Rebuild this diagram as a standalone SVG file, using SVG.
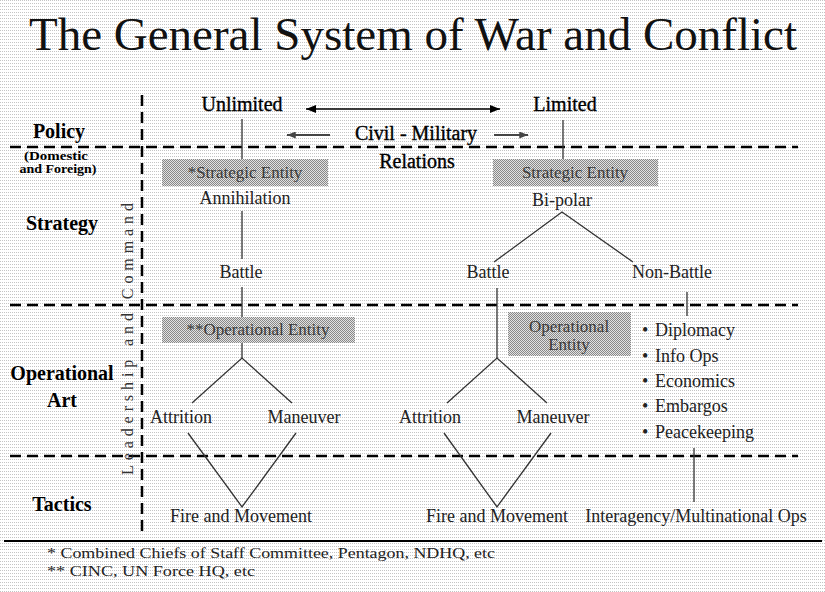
<svg xmlns="http://www.w3.org/2000/svg" width="825" height="592" viewBox="0 0 825 592" font-family="'Liberation Serif', serif">
  <defs>
    <!-- light dotted paper texture -->
    <pattern id="paper" width="2" height="3" patternUnits="userSpaceOnUse">
      <rect width="2" height="3" fill="#ffffff"/>
      <rect x="0" y="0" width="1" height="1" fill="#c4c4c4"/>
    </pattern>
    <!-- checkered shading for entity boxes -->
    <pattern id="shade" width="2" height="2" patternUnits="userSpaceOnUse">
      <rect width="2" height="2" fill="#e2e2e2"/>
      <rect x="0" y="0" width="1" height="1" fill="#888888"/>
      <rect x="1" y="1" width="1" height="1" fill="#888888"/>
    </pattern>
    <marker id="headBlack" viewBox="0 0 10 8" refX="10" refY="4" markerWidth="10" markerHeight="8" markerUnits="userSpaceOnUse" orient="auto-start-reverse">
      <path d="M0,0 L10,4 L0,8 Z" fill="#000"/>
    </marker>
    <marker id="headGray" viewBox="0 0 10 8" refX="10" refY="4" markerWidth="9" markerHeight="7" markerUnits="userSpaceOnUse" orient="auto-start-reverse">
      <path d="M0,0 L10,4 L0,8 Z" fill="#444"/>
    </marker>
  </defs>
  <style>
    .title { font-size: 47px; fill: #111; }
    .band { font-size: 20px; font-weight: bold; fill: #000; }
    .bandSmall { font-size: 12px; font-weight: bold; fill: #000; }
    .big { font-size: 20px; fill: #000; stroke: #000; stroke-width: 0.35px; }
    .lbl { font-size: 18px; fill: #222; }
    .boxText { font-size: 17px; fill: #3a3a3a; }
    .note { font-size: 15px; fill: #222; }
    .vert { font-size: 16px; fill: #333; }
    .box { fill: url(#shade); }
    .divider { stroke: #000; stroke-width: 2.5; stroke-dasharray: 11 6; fill: none; }
    .link { stroke: #333; stroke-width: 1.3; fill: none; }
    .arrow { stroke: #000; stroke-width: 1.6; fill: none; }
    .arrowGray { stroke: #444; stroke-width: 2; fill: none; }
  </style>

  <rect width="825" height="592" fill="url(#paper)"/>

  <text class="title" font-family="Liberation Serif" x="413" y="50" text-anchor="middle">The General System of War and Conflict</text>

  <!-- level dividers -->
  <g id="dividers">
    <line class="divider" x1="10" y1="147" x2="798" y2="147"/>
    <line class="divider" x1="10" y1="305" x2="798" y2="305"/>
    <line class="divider" x1="10" y1="456" x2="798" y2="456"/>
    <line class="divider" x1="142" y1="95" x2="142" y2="534"/>
  </g>

  <!-- level labels -->
  <g id="levels">
    <text class="band" font-family="Liberation Serif" x="59" y="138" text-anchor="middle">Policy</text>
    <text class="bandSmall" font-family="Liberation Serif" x="56" y="160" text-anchor="middle" textLength="64" lengthAdjust="spacingAndGlyphs">(Domestic</text>
    <text class="bandSmall" font-family="Liberation Serif" x="58" y="173" text-anchor="middle" textLength="77" lengthAdjust="spacingAndGlyphs">and Foreign)</text>
    <text class="band" font-family="Liberation Serif" x="62" y="230" text-anchor="middle">Strategy</text>
    <text class="band" font-family="Liberation Serif" x="62" y="380" text-anchor="middle">Operational</text>
    <text class="band" font-family="Liberation Serif" x="62" y="407" text-anchor="middle">Art</text>
    <text class="band" font-family="Liberation Serif" x="62" y="511" text-anchor="middle">Tactics</text>
    <text class="vert" font-family="Liberation Serif" transform="translate(133,475) rotate(-90)" x="0" y="0" textLength="272" lengthAdjust="spacing">Leadership and Command</text>
  </g>

  <!-- connectors -->
  <g id="connectors">
    <line class="arrow" x1="306" y1="109" x2="500" y2="109" marker-start="url(#headBlack)" marker-end="url(#headBlack)"/>
    <line class="arrowGray" x1="330" y1="135" x2="287" y2="135" marker-end="url(#headGray)"/>
    <line class="arrowGray" x1="494" y1="135" x2="528" y2="135" marker-end="url(#headGray)"/>

    <!-- unlimited branch -->
    <line class="link" x1="242" y1="119" x2="242" y2="159"/>
    <line class="link" x1="242" y1="211" x2="242" y2="259"/>
    <line class="link" x1="242" y1="287" x2="242" y2="317"/>
    <line class="link" x1="242" y1="343" x2="242" y2="358"/>
    <polyline class="link" points="192,403 242,358 292,403"/>
    <polyline class="link" points="188,433 242,507 296,433"/>

    <!-- limited branch -->
    <line class="link" x1="563" y1="120" x2="563" y2="159"/>
    <polyline class="link" points="494,262 562,212 633,262"/>
    <line class="link" x1="497" y1="288" x2="497" y2="358"/>
    <polyline class="link" points="447,403 497,358 547,403"/>
    <polyline class="link" points="444,433 497,507 551,433"/>
    <line class="link" x1="687" y1="292" x2="687" y2="316"/>
    <line class="link" x1="694" y1="448" x2="694" y2="502"/>
  </g>

  <g id="unlimited"><text class="big" font-family="Liberation Serif" x="242" y="111" text-anchor="middle">Unlimited</text></g>
  <g id="limited"><text class="big" font-family="Liberation Serif" x="565" y="111" text-anchor="middle">Limited</text></g>
  <g id="civil-military">
    <text class="big" font-family="Liberation Serif" x="416" y="140" text-anchor="middle">Civil - Military</text>
    <text class="big" font-family="Liberation Serif" x="417" y="168" text-anchor="middle">Relations</text>
  </g>

  <g id="strategic-entity-1">
    <rect class="box" x="162" y="159" width="166" height="27"/>
    <text class="boxText" font-family="Liberation Serif" x="245" y="178" text-anchor="middle">*Strategic Entity</text>
  </g>
  <g id="annihilation"><text class="lbl" font-family="Liberation Serif" x="245" y="204" text-anchor="middle">Annihilation</text></g>
  <g id="battle-1"><text class="lbl" font-family="Liberation Serif" x="241" y="278" text-anchor="middle">Battle</text></g>
  <g id="operational-entity-1">
    <rect class="box" x="162" y="317" width="193" height="26"/>
    <text class="boxText" font-family="Liberation Serif" x="258" y="335" text-anchor="middle">**Operational Entity</text>
  </g>
  <g id="attrition-1"><text class="lbl" font-family="Liberation Serif" x="181" y="423" text-anchor="middle">Attrition</text></g>
  <g id="maneuver-1"><text class="lbl" font-family="Liberation Serif" x="304" y="423" text-anchor="middle">Maneuver</text></g>
  <g id="fire-movement-1"><text class="lbl" font-family="Liberation Serif" x="241" y="522" text-anchor="middle">Fire and Movement</text></g>

  <g id="strategic-entity-2">
    <rect class="box" x="493" y="159" width="165" height="27"/>
    <text class="boxText" font-family="Liberation Serif" x="575" y="178" text-anchor="middle">Strategic Entity</text>
  </g>
  <g id="bi-polar"><text class="lbl" font-family="Liberation Serif" x="562" y="206" text-anchor="middle">Bi-polar</text></g>
  <g id="battle-2"><text class="lbl" font-family="Liberation Serif" x="488" y="278" text-anchor="middle">Battle</text></g>
  <g id="non-battle"><text class="lbl" font-family="Liberation Serif" x="672" y="278" text-anchor="middle">Non-Battle</text></g>
  <g id="operational-entity-2">
    <rect class="box" x="508" y="312" width="123" height="44"/>
    <text class="boxText" font-family="Liberation Serif" x="569" y="332" text-anchor="middle">Operational</text>
    <text class="boxText" font-family="Liberation Serif" x="569" y="350" text-anchor="middle">Entity</text>
  </g>
  <g id="attrition-2"><text class="lbl" font-family="Liberation Serif" x="430" y="423" text-anchor="middle">Attrition</text></g>
  <g id="maneuver-2"><text class="lbl" font-family="Liberation Serif" x="553" y="423" text-anchor="middle">Maneuver</text></g>
  <g id="fire-movement-2"><text class="lbl" font-family="Liberation Serif" x="497" y="522" text-anchor="middle">Fire and Movement</text></g>

  <g id="non-battle-means">
    <text class="lbl" font-family="Liberation Serif" x="642" y="336">•</text><text class="lbl" font-family="Liberation Serif" x="655" y="336">Diplomacy</text>
    <text class="lbl" font-family="Liberation Serif" x="642" y="362">•</text><text class="lbl" font-family="Liberation Serif" x="655" y="362">Info Ops</text>
    <text class="lbl" font-family="Liberation Serif" x="642" y="387">•</text><text class="lbl" font-family="Liberation Serif" x="655" y="387">Economics</text>
    <text class="lbl" font-family="Liberation Serif" x="642" y="412">•</text><text class="lbl" font-family="Liberation Serif" x="655" y="412">Embargos</text>
    <text class="lbl" font-family="Liberation Serif" x="642" y="438">•</text><text class="lbl" font-family="Liberation Serif" x="655" y="438">Peacekeeping</text>
  </g>
  <g id="interagency"><text class="lbl" font-family="Liberation Serif" x="696" y="522" text-anchor="middle">Interagency/Multinational Ops</text></g>

  <!-- footnotes -->
  <g id="footnotes">
    <line x1="4" y1="541" x2="822" y2="541" stroke="#000" stroke-width="2"/>
    <text class="note" font-family="Liberation Serif" x="47" y="558" textLength="448" lengthAdjust="spacingAndGlyphs">* Combined Chiefs of Staff Committee, Pentagon, NDHQ, etc</text>
    <text class="note" font-family="Liberation Serif" x="47" y="576" textLength="208" lengthAdjust="spacingAndGlyphs">** CINC, UN Force HQ, etc</text>
  </g>
</svg>
